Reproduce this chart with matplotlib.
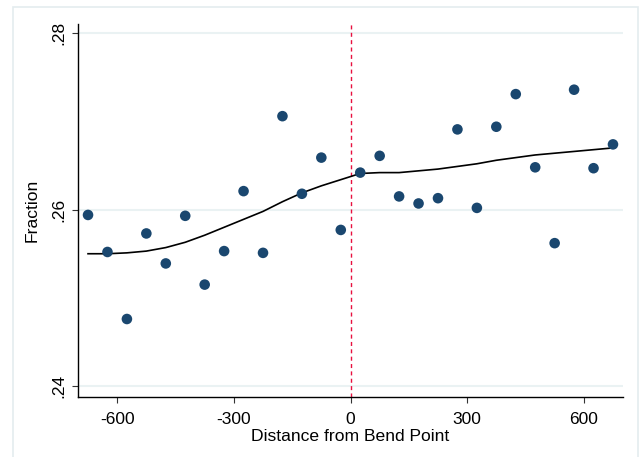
import matplotlib
matplotlib.use("Agg")
import matplotlib.pyplot as plt
from matplotlib.patches import Rectangle

plt.rcParams['font.family'] = ['Liberation Sans', 'DejaVu Sans']

# Bin centers (distance from bend point)
bin_x = [-675, -625, -575, -525, -475, -425, -375, -325, -275, -225, -175, -125, -75, -25,
         25, 75, 125, 175, 225, 275, 325, 375, 425, 475, 525, 575, 625, 675]
# Binned fraction
frac_y = [0.2594, 0.2552, 0.2476, 0.2573, 0.2539, 0.2593, 0.2515, 0.2553, 0.2621, 0.2551,
          0.2706, 0.2618, 0.2659, 0.2577,
          0.2642, 0.2661, 0.2615, 0.2607, 0.2613, 0.2691, 0.2602, 0.2694, 0.2731, 0.2648,
          0.2562, 0.2736, 0.2647, 0.2674]
# Smoothed fit
fit_y = [0.2550, 0.2550, 0.2551, 0.2553, 0.2557, 0.2563, 0.2571, 0.2580, 0.2589, 0.2598,
         0.2609, 0.2619, 0.2627, 0.2634,
         0.2641, 0.2642, 0.2642, 0.2644, 0.2646, 0.2649, 0.2652, 0.2656, 0.2659, 0.2662,
         0.2664, 0.2666, 0.2668, 0.2670]

x_ticks = [-600, -300, 0, 300, 600]
x_tick_labels = ["-600", "-300", "0", "300", "600"]
y_ticks = [0.24, 0.26, 0.28]
y_tick_labels = [".24", ".26", ".28"]

fig = plt.figure(figsize=(6.44, 4.57), dpi=100)
fig.patch.set_facecolor('white')
fig.patches.append(Rectangle((13.3 / 644, -0.05), (638.3 - 13.3) / 644, 1.05 - 7 / 457,
                             transform=fig.transFigure, fill=False,
                             edgecolor='#e4ecef', linewidth=1.2))

ax = fig.add_axes([78.3 / 644, 1 - 396.7 / 457, (622.7 - 78.3) / 644, (396.7 - 24) / 457])
ax.set_xlim(-700, 700)
ax.set_ylim(0.23879, 0.28105)

for yt in y_ticks:
    ax.axhline(yt, color='#eaf2f3', linewidth=1.5, zorder=0)

ax.axvline(0, color='#e8103f', linewidth=1.0, linestyle=(0, (2.9, 2.4)), zorder=1)
ax.plot(bin_x, fit_y, color='black', linewidth=1.2, zorder=2)
ax.scatter(bin_x, frac_y, s=58, color='#1a476f', edgecolors='none', zorder=3)

ax.spines['top'].set_visible(False)
ax.spines['right'].set_visible(False)
ax.spines['left'].set_linewidth(1.0)
ax.spines['bottom'].set_linewidth(1.0)

ax.set_xticks(x_ticks)
ax.set_xticklabels(x_tick_labels)
ax.set_yticks(y_ticks)
ax.set_yticklabels(y_tick_labels, rotation=90, va='center')
ax.tick_params(axis='both', direction='out', length=4.3, width=0.8, labelsize=12.5,
               color='#333333')
ax.tick_params(axis='y', pad=4.5)
ax.tick_params(axis='x', pad=7)

ax.set_xlabel("Distance from Bend Point", fontsize=12.6, labelpad=1.5)
ax.set_ylabel("Fraction", fontsize=12.6, labelpad=8)

fig.savefig("out.png", dpi=100, facecolor='white')
